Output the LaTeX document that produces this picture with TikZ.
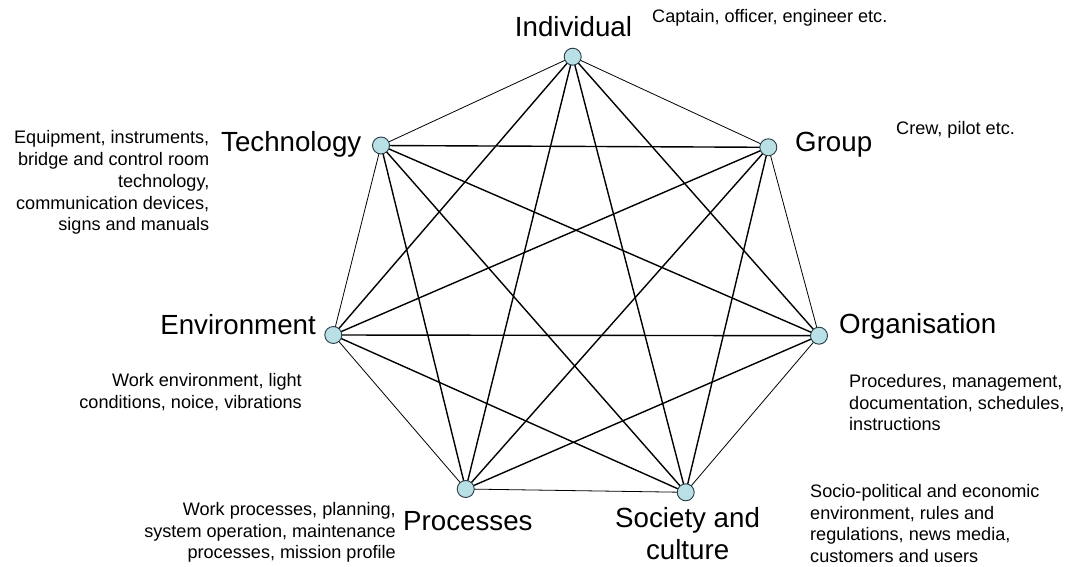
\documentclass[tikz,border=0pt]{standalone}
\usepackage{fontspec}
\setmainfont{Liberation Sans}
\definecolor{dotfill}{RGB}{185,224,228}
\definecolor{dotline}{RGB}{40,60,70}
\tikzset{
  dot/.style={circle, draw=dotline, line width=0.9pt, fill=dotfill, minimum size=17pt, inner sep=0pt},
  outeredge/.style={line width=0.8pt, draw=black},
  inneredge/.style={line width=1.4pt, draw=black},
  biglabel/.style={inner sep=0pt, font=\fontsize{27.7}{32}\selectfont},
  desc/.style={inner sep=0pt, font=\fontsize{18.1}{21.8}\selectfont}
}
\begin{document}
\begin{tikzpicture}[x=1pt,y=-1pt]
\useasboundingbox (0,0) rectangle (1068,567);
\fill[white] (0,0) rectangle (1068,567);
% node positions
\coordinate (pind) at (572.7,56.7);
\coordinate (pgrp) at (768.3,147.3);
\coordinate (porg) at (819,335.7);
\coordinate (psoc) at (685.7,492.3);
\coordinate (ppro) at (465.7,489);
\coordinate (penv) at (333.3,335);
\coordinate (ptec) at (381,145.5);
% outer edges
\draw[outeredge] (pind) -- (pgrp) -- (porg) -- (psoc) -- (ppro) -- (penv) -- (ptec) -- cycle;
% diagonals
\foreach \a/\b in {pind/porg, pind/psoc, pind/ppro, pind/penv,
                   pgrp/psoc, pgrp/ppro, pgrp/penv, pgrp/ptec,
                   porg/ppro, porg/penv, porg/ptec,
                   psoc/penv, psoc/ptec,
                   ppro/ptec}
  \draw[inneredge] (\a) -- (\b);
% dots
\node[dot] (ind) at (pind) {};
\node[dot] (grp) at (pgrp) {};
\node[dot] (org) at (porg) {};
\node[dot] (soc) at (psoc) {};
\node[dot] (pro) at (ppro) {};
\node[dot] (env) at (penv) {};
\node[dot] (tec) at (ptec) {};
% big labels
\node[biglabel, anchor=base] (lind) at (573.5,37) {Individual};
\node[biglabel, anchor=base east] (ltec) at (361.5,151.5) {Technology};
\node[biglabel, anchor=base west] (lgrp) at (795,152) {Group};
\node[biglabel, anchor=base east] (lenv) at (316,334) {Environment};
\node[biglabel, anchor=base west] (lorg) at (839,333) {Organisation};
\node[biglabel, anchor=base west] (lpro) at (403,530) {Processes};
\node[biglabel, anchor=north, align=center] (lsoc) at (687.6,507) {Society and\\culture};
% descriptions
\node[desc, anchor=base west] (dind) at (652,23) {Captain, officer, engineer etc.};
\node[desc, anchor=base west] (dgrp) at (896,135) {Crew, pilot etc.};
\node[desc, anchor=north east, align=right] (dtec) at (209.5,130.3) {Equipment, instruments,\\bridge and control room\\technology,\\communication devices,\\signs and manuals};
\node[desc, anchor=north east, align=right] (denv) at (302,373) {Work environment, light\\conditions, noice, vibrations};
\node[desc, anchor=north east, align=right] (dpro) at (396,502) {Work processes, planning,\\system operation, maintenance\\processes, mission profile};
\node[desc, anchor=north west, align=left] (dorg) at (849,374) {Procedures, management,\\documentation, schedules,\\instructions};
\node[desc, anchor=north west, align=left] (dsoc) at (810,484) {Socio-political and economic\\environment, rules and\\regulations, news media,\\customers and users};
\end{tikzpicture}
\end{document}
